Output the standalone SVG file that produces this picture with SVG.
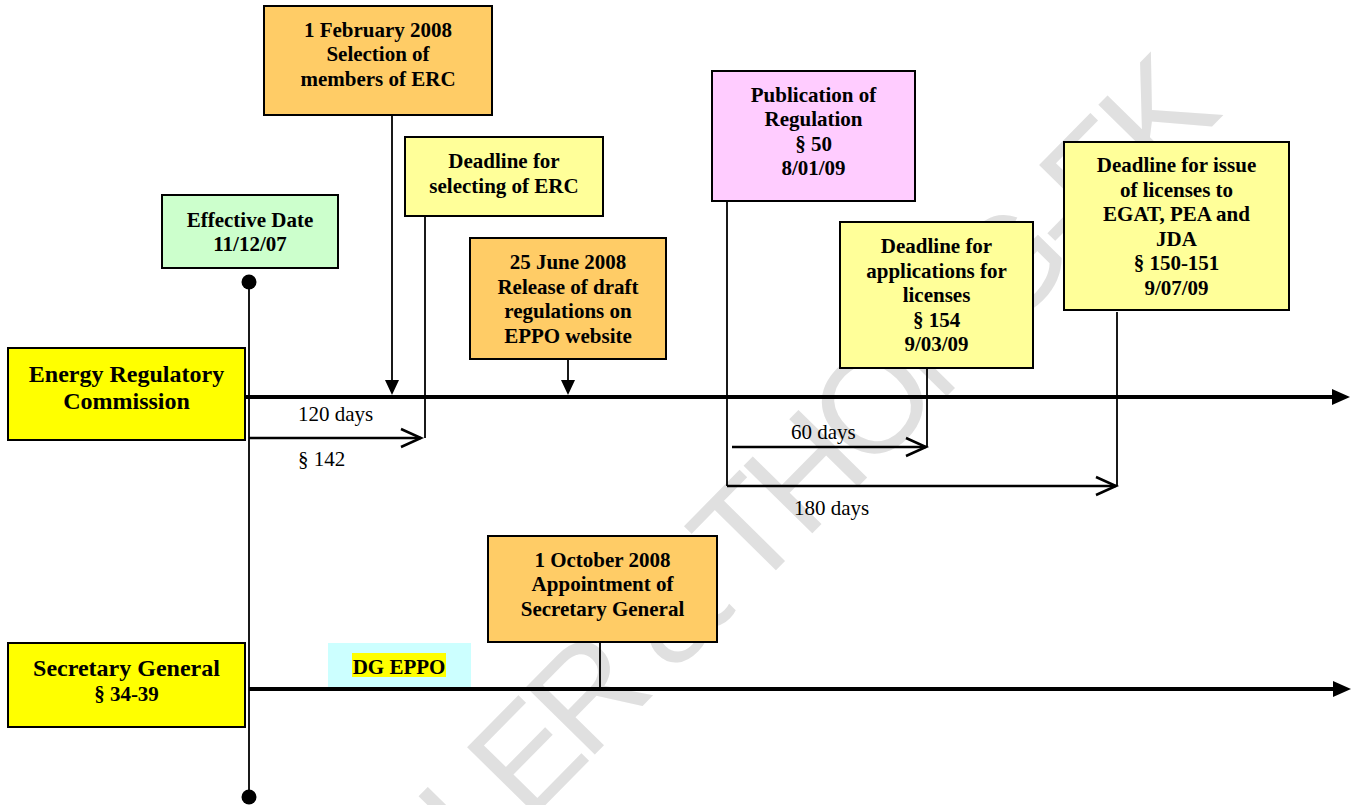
<svg xmlns="http://www.w3.org/2000/svg" width="1357" height="805" viewBox="0 0 1357 805">
<style>
.box{stroke:#000;stroke-width:2}
.orange{fill:#FFCC66}
.lyellow{fill:#FFFF99}
.yellow{fill:#FFFF00}
.green{fill:#CCFFCC}
.pink{fill:#FFCCFF}
.cyan{fill:#CCFFFF}
.bt{font-family:"Liberation Serif","Times New Roman",serif;font-weight:bold;font-size:21px;text-anchor:middle;fill:#000}
.big{font-size:24px}
.rt{font-family:"Liberation Serif","Times New Roman",serif;font-size:21px;fill:#000}
.ln{stroke:#000;stroke-width:1.8;fill:none}
.main{stroke:#000;stroke-width:4;fill:none}
.span{stroke:#000;stroke-width:2.5;fill:none}
.wm{font-family:"Liberation Sans",Arial,sans-serif;font-size:140px;letter-spacing:-9px;fill:#e0e0e0}
</style>
<defs>
<marker id="tri" markerUnits="userSpaceOnUse" markerWidth="18" markerHeight="16" refX="2" refY="8" orient="auto">
<path d="M0,0 L18,8 L0,16 z" fill="#000"/>
</marker>
<marker id="triS" markerUnits="userSpaceOnUse" markerWidth="15" markerHeight="14" refX="1" refY="7" orient="auto">
<path d="M0,0 L15,7 L0,14 z" fill="#000"/>
</marker>
<marker id="chev" markerUnits="userSpaceOnUse" markerWidth="24" markerHeight="22" refX="21" refY="10" orient="auto" style="overflow:visible">
<path d="M1,1 L21,10 L1,19" fill="none" stroke="#000" stroke-width="2.5"/>
</marker>
</defs>
<rect width="1357" height="805" fill="#fff"/>
<g id="watermark">
<text class="wm" x="162" y="1195" transform="rotate(-45.5 162 1195)">CHANDLER &amp; THONG-EK</text>
</g>
<g id="connectors">
<line class="ln" x1="249" y1="282" x2="249" y2="797"/>
<circle cx="249" cy="282" r="7.5" fill="#000"/>
<circle cx="249" cy="797" r="7.5" fill="#000"/>
<line class="main" x1="244" y1="397" x2="1334" y2="397" marker-end="url(#tri)"/>
<line class="main" x1="249" y1="689" x2="1335" y2="689" marker-end="url(#tri)"/>
<line class="ln" x1="392" y1="115" x2="392" y2="381" marker-end="url(#triS)"/>
<line class="ln" x1="568" y1="359" x2="568" y2="381" marker-end="url(#triS)"/>
<line class="ln" x1="425" y1="216" x2="425" y2="438"/>
<line class="ln" x1="727" y1="201" x2="727" y2="486"/>
<line class="ln" x1="927" y1="368" x2="927" y2="447"/>
<line class="ln" x1="1117" y1="312" x2="1117" y2="486"/>
<line class="ln" x1="600" y1="642" x2="600" y2="689"/>
<line class="span" x1="249" y1="438" x2="421" y2="438" marker-end="url(#chev)"/>
<line class="span" x1="732" y1="447" x2="926" y2="447" marker-end="url(#chev)"/>
<line class="span" x1="727" y1="486" x2="1116" y2="486" marker-end="url(#chev)"/>
<text class="rt" x="298" y="421">120 days</text>
<text class="rt" x="298" y="466">§ 142</text>
<text class="rt" x="791" y="439">60 days</text>
<text class="rt" x="794" y="515">180 days</text>
</g>
<g id="node-feb2008">
<rect class="box orange" x="264" y="6" width="228" height="109"/>
<text class="bt" x="378" y="37">1 February 2008</text>
<text class="bt" x="378" y="61">Selection of</text>
<text class="bt" x="378" y="85.5">members of ERC</text>
</g>
<g id="node-deadline-erc">
<rect class="box lyellow" x="405" y="137" width="198" height="79"/>
<text class="bt" x="504" y="168">Deadline for</text>
<text class="bt" x="504" y="192.5">selecting of ERC</text>
</g>
<g id="node-effective">
<rect class="box green" x="162" y="195" width="176" height="73"/>
<text class="bt" x="250" y="226.5">Effective Date</text>
<text class="bt" x="250" y="251">11/12/07</text>
</g>
<g id="node-june2008">
<rect class="box orange" x="470" y="238" width="196" height="121"/>
<text class="bt" x="568" y="269">25 June 2008</text>
<text class="bt" x="568" y="293.5">Release of draft</text>
<text class="bt" x="568" y="318">regulations on</text>
<text class="bt" x="568" y="342.5">EPPO website</text>
</g>
<g id="node-publication">
<rect class="box pink" x="712" y="71" width="203" height="130"/>
<text class="bt" x="813.5" y="102">Publication of</text>
<text class="bt" x="813.5" y="126">Regulation</text>
<text class="bt" x="813.5" y="150.5">§ 50</text>
<text class="bt" x="813.5" y="175">8/01/09</text>
</g>
<g id="node-applications">
<rect class="box lyellow" x="840" y="222" width="193" height="146"/>
<text class="bt" x="936.5" y="253">Deadline for</text>
<text class="bt" x="936.5" y="277.5">applications for</text>
<text class="bt" x="936.5" y="302">licenses</text>
<text class="bt" x="936.5" y="326.5">§ 154</text>
<text class="bt" x="936.5" y="351">9/03/09</text>
</g>
<g id="node-issue">
<rect class="box lyellow" x="1064" y="142" width="225" height="168"/>
<text class="bt" x="1176.5" y="172">Deadline for issue</text>
<text class="bt" x="1176.5" y="196.5">of licenses to</text>
<text class="bt" x="1176.5" y="221">EGAT, PEA and</text>
<text class="bt" x="1176.5" y="245.5">JDA</text>
<text class="bt" x="1176.5" y="270">§ 150-151</text>
<text class="bt" x="1176.5" y="294.5">9/07/09</text>
</g>
<g id="node-erc">
<rect class="box yellow" x="8" y="348" width="237" height="92"/>
<text class="bt big" x="126.5" y="382">Energy Regulatory</text>
<text class="bt big" x="126.5" y="409">Commission</text>
</g>
<g id="node-oct2008">
<rect class="box orange" x="488" y="536" width="229" height="106"/>
<text class="bt" x="602.5" y="566.5">1 October 2008</text>
<text class="bt" x="602.5" y="591">Appointment of</text>
<text class="bt" x="602.5" y="615.5">Secretary General</text>
</g>
<g id="node-dg-eppo">
<rect class="cyan" x="328" y="643" width="143" height="44"/>
<rect class="yellow" x="352" y="653" width="94" height="24"/>
<text class="bt" x="399" y="674">DG EPPO</text>
</g>
<g id="node-secgen">
<rect class="box yellow" x="8" y="643" width="237" height="84"/>
<text class="bt big" x="126.5" y="676">Secretary General</text>
<text class="bt" x="126.5" y="701">§ 34-39</text>
</g>
</svg>
